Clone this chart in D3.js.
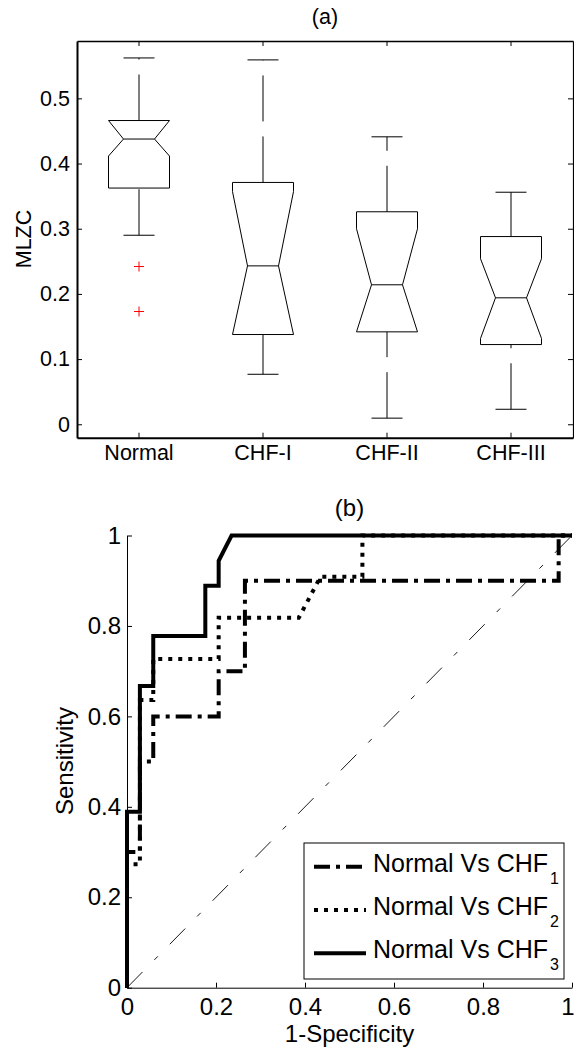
<!DOCTYPE html>
<html lang="en">
<head>
  <meta charset="UTF-8">
  <title>MLZC boxplot and ROC curves</title>
  <script src="https://cdn.jsdelivr.net/npm/d3@7"></script>
  <style>
    body { margin: 0; background: #fff; }
    text { font-family: "Liberation Sans", Arial, sans-serif; fill: #000; }
    .axis path, .axis line { stroke: #000; }
  </style>
</head>
<body>
<svg width="574" height="1050"></svg>
<script>

// ---- panel (a): notched boxplot of MLZC
var groups = ["Normal", "CHF-I", "CHF-II", "CHF-III"];
var upperAdj = [0.562, 0.559, 0.441, 0.356];
var q3 = [0.466, 0.371, 0.326, 0.288];
var notchHi = [0.466, 0.357, 0.300, 0.254];
var medians = [0.4376, 0.243, 0.214, 0.194];
var notchLo = [0.4115, 0.1377, 0.1418, 0.1316];
var q1 = [0.3624, 0.1377, 0.1418, 0.1223];
var lowerAdj = [0.290, 0.0767, 0.0094, 0.023];
var outlierGroup = ["Normal", "Normal"];
var outlierVals = [0.242, 0.173];
var yTicksA = [0, 0.1, 0.2, 0.3, 0.4, 0.5];

// ---- panel (b): ROC curves
var fpr1 = [0, 0, 0.029, 0.029, 0.059, 0.059, 0.206, 0.206, 0.265, 0.265, 0.970, 0.970, 1];
var tpr1 = [0, 0.3, 0.3, 0.5, 0.5, 0.6, 0.6, 0.7, 0.7, 0.9, 0.9, 1, 1];
var fpr2 = [0, 0, 0.029, 0.029, 0.059, 0.059, 0.206, 0.206, 0.386, 0.435, 0.529, 0.529, 1];
var tpr2 = [0, 0.273, 0.273, 0.636, 0.636, 0.727, 0.727, 0.818, 0.818, 0.909, 0.909, 1, 1];
var fpr3 = [0, 0, 0.029, 0.029, 0.059, 0.059, 0.176, 0.176, 0.206, 0.206, 0.235, 1];
var tpr3 = [0, 0.389, 0.389, 0.667, 0.667, 0.778, 0.778, 0.889, 0.889, 0.944, 1, 1];
var rocTicks = [0, 0.2, 0.4, 0.6, 0.8, 1];
var legendText = ["Normal Vs CHF", "Normal Vs CHF", "Normal Vs CHF"];
var legendSub = ["1", "2", "3"];

var svg = d3.select("svg");

// ================= (a) =================
var fa = 21.5;
var xA = d3.scaleBand().domain(groups).range([77, 573]).padding(0);
var yA = d3.scaleLinear().domain([-0.0206, 0.588]).range([437.7, 41]);
var cx = function(g) { return xA(g) + xA.bandwidth() / 2; };

svg.append("text")
    .attr("x", 325).attr("y", 24)
    .attr("text-anchor", "middle")
    .style("font-size", fa + "px")
    .text("(a)");

var gA = svg.append("g");

gA.append("g").attr("class", "axis")
    .attr("transform", "translate(77,0)")
    .call(d3.axisLeft(yA).tickValues(yTicksA).tickSizeInner(-5).tickSizeOuter(0).tickPadding(7)
        .tickFormat(function(d) { return d === 0 ? "0" : d3.format(".1f")(d); }))
    .call(function(g) { g.select(".domain").attr("stroke-width", 2); });

gA.append("g").attr("class", "axis")
    .attr("transform", "translate(573,0)")
    .call(d3.axisRight(yA).tickValues(yTicksA).tickSizeInner(-5).tickSizeOuter(0).tickFormat(""))
    .call(function(g) { g.select(".domain").attr("stroke-width", 1.2); });

gA.append("g").attr("class", "axis")
    .attr("transform", "translate(0,41)")
    .call(d3.axisTop(xA).tickSizeInner(-5).tickSizeOuter(0).tickFormat(""))
    .call(function(g) { g.select(".domain").attr("stroke-width", 1.5); });

gA.append("g").attr("class", "axis")
    .attr("transform", "translate(0,437.7)")
    .call(d3.axisBottom(xA).tickSizeInner(-5).tickSizeOuter(0).tickPadding(7))
    .call(function(g) { g.select(".domain").attr("stroke-width", 2); });

gA.selectAll(".axis text").style("font-size", fa + "px").style("font-family", '"Liberation Sans", Arial, sans-serif');

svg.append("text")
    .attr("transform", "translate(31,239) rotate(-90)")
    .attr("text-anchor", "middle")
    .style("font-size", fa + "px")
    .text("MLZC");

var boxHW = 30.5, notchHW = 15.5, capHW = 15.5;
var boxes = gA.append("g").attr("fill", "none").attr("stroke", "#000").attr("stroke-width", 1);

groups.forEach(function(g, i) {
  var c = cx(g);
  // upper whisker drawn from the box upwards, lower from the end up to the box
  boxes.append("line")
      .attr("x1", c).attr("x2", c)
      .attr("y1", yA(q3[i])).attr("y2", yA(upperAdj[i]))
      .attr("stroke-dasharray", "46,15");
  boxes.append("line")
      .attr("x1", c).attr("x2", c)
      .attr("y1", yA(lowerAdj[i])).attr("y2", yA(q1[i]))
      .attr("stroke-dasharray", "46,15");
  boxes.append("line")
      .attr("x1", c - capHW).attr("x2", c + capHW)
      .attr("y1", yA(upperAdj[i])).attr("y2", yA(upperAdj[i]));
  boxes.append("line")
      .attr("x1", c - capHW).attr("x2", c + capHW)
      .attr("y1", yA(lowerAdj[i])).attr("y2", yA(lowerAdj[i]));

  var pts = [
    [c - boxHW, q1[i]], [c - boxHW, notchLo[i]], [c - notchHW, medians[i]],
    [c - boxHW, notchHi[i]], [c - boxHW, q3[i]], [c + boxHW, q3[i]],
    [c + boxHW, notchHi[i]], [c + notchHW, medians[i]], [c + boxHW, notchLo[i]],
    [c + boxHW, q1[i]]
  ];
  boxes.append("path")
      .attr("d", d3.line().x(function(p) { return p[0]; }).y(function(p) { return yA(p[1]); })(pts) + "Z");
  boxes.append("line")
      .attr("x1", c - notchHW).attr("x2", c + notchHW)
      .attr("y1", yA(medians[i])).attr("y2", yA(medians[i]));
});

outlierVals.forEach(function(v, i) {
  gA.append("path")
      .attr("transform", "translate(" + cx(outlierGroup[i]) + "," + yA(v) + ")")
      .attr("d", "M-5,0H5M0,-5V5")
      .attr("stroke", "#f00").attr("stroke-width", 1).attr("fill", "none");
});

// ================= (b) =================
var fb = 24;
var xB = d3.scaleLinear().domain([0, 1]).range([127, 572]);
var yB = d3.scaleLinear().domain([0, 1]).range([987.7, 535.5]);

svg.append("text")
    .attr("x", 349.5).attr("y", 516)
    .attr("text-anchor", "middle")
    .style("font-size", fb + "px")
    .text("(b)");

var gB = svg.append("g");

gB.append("g").attr("class", "axis")
    .attr("transform", "translate(127,0)")
    .call(d3.axisLeft(yB).tickValues(rocTicks).tickSizeInner(-5).tickSizeOuter(0).tickPadding(6)
        .tickFormat(function(d) { return String(d); }));

gB.append("g").attr("class", "axis")
    .attr("transform", "translate(0,987.7)")
    .call(d3.axisBottom(xB).tickValues(rocTicks).tickSizeInner(-5).tickSizeOuter(0).tickPadding(10)
        .tickFormat(function(d) { return String(d); }))
    .call(function(g) {
      // the last label sits on the figure edge; keep it inside
      g.selectAll(".tick text").filter(function(d) { return d === 1; })
          .attr("text-anchor", "end").attr("x", 2);
    });

gB.selectAll(".axis path, .axis line").attr("stroke", "#333");
gB.selectAll(".axis text").style("font-size", fb + "px").style("font-family", '"Liberation Sans", Arial, sans-serif');

svg.append("text")
    .attr("transform", "translate(73,761) rotate(-90)")
    .attr("text-anchor", "middle")
    .style("font-size", fb + "px")
    .text("Sensitivity");

svg.append("text")
    .attr("x", 349.5).attr("y", 1042)
    .attr("text-anchor", "middle")
    .style("font-size", fb + "px")
    .text("1-Specificity");

// chance line
gB.append("line")
    .attr("x1", xB(0)).attr("y1", yB(0))
    .attr("x2", xB(1)).attr("y2", yB(1))
    .attr("stroke", "#000").attr("stroke-width", 0.9)
    .attr("stroke-dasharray", "22,17,5,17");

var rocLine = d3.line()
    .x(function(d) { return xB(d[0]); })
    .y(function(d) { return yB(d[1]); });

var series = [
  { fpr: fpr1, tpr: tpr1, dash: "16,6,4,6" },
  { fpr: fpr2, tpr: tpr2, dash: "4,6" },
  { fpr: fpr3, tpr: tpr3, dash: null }
];

series.forEach(function(s) {
  gB.append("path")
      .datum(d3.zip(s.fpr, s.tpr))
      .attr("d", rocLine)
      .attr("fill", "none")
      .attr("stroke", "#000")
      .attr("stroke-width", 4)
      .attr("stroke-dasharray", s.dash);
});

// legend
var leg = svg.append("g");
leg.append("rect")
    .attr("x", 304).attr("y", 843).attr("width", 260).attr("height", 136)
    .attr("fill", "#fff").attr("stroke", "#000").attr("stroke-width", 1);

var legY = [866.7, 910, 953.3];
series.forEach(function(s, i) {
  leg.append("line")
      .attr("x1", 314).attr("x2", 366)
      .attr("y1", legY[i]).attr("y2", legY[i])
      .attr("stroke", "#000").attr("stroke-width", 4)
      .attr("stroke-dasharray", s.dash);
  var t = leg.append("text")
      .attr("x", 373).attr("y", legY[i] + 5)
      .style("font-size", "25px")
      .text(legendText[i]);
  t.append("tspan")
      .attr("dx", 2).attr("dy", 12)
      .style("font-size", "16px")
      .text(legendSub[i]);
});

</script>
</body>
</html>
